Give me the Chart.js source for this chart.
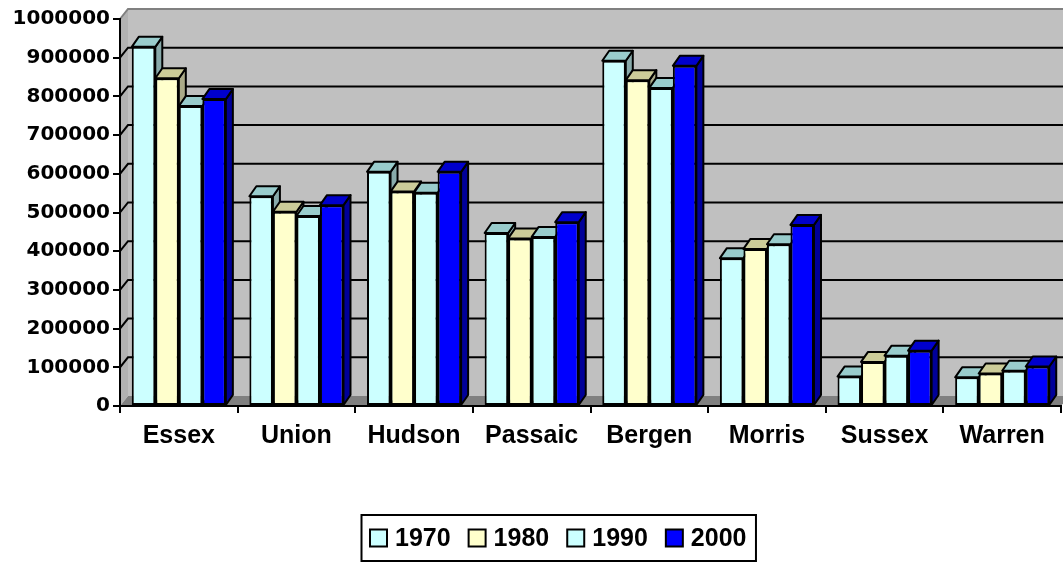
<!DOCTYPE html>
<html>
<head>
<meta charset="utf-8">
<script src="https://cdn.jsdelivr.net/npm/chart.js@4.4.1/dist/chart.umd.min.js"></script>
<style>
  html, body { margin: 0; padding: 0; background: #fff; }
  #wrap { width: 1063px; height: 563px; position: relative; }
</style>
</head>
<body>
<div id="wrap"><canvas id="chart"></canvas></div>
<script>
const counties = ['Essex', 'Union', 'Hudson', 'Passaic', 'Bergen', 'Morris', 'Sussex', 'Warren'];
const years = ['1970', '1980', '1990', '2000'];
const pop1970 = [928000, 542000, 605000, 447000, 892000, 382000, 76000, 74000];
const pop1980 = [847000, 502000, 554000, 433000, 842000, 406000, 114000, 84000];
const pop1990 = [775000, 491000, 551000, 437000, 822000, 418000, 130000, 91000];
const pop2000 = [793000, 519000, 605000, 475000, 879000, 468000, 143000, 102000];
const yMax = 1000000;
const yStep = 100000;

const frontColors = ['#CCFFFF', '#FFFFCC', '#CCFFFF', '#0000FF'];
const topColors = ['#99CCCC', '#CCCC99', '#99CCCC', '#0000CC'];
const sideColors = ['#88AAAA', '#AAAA88', '#88AAAA', '#000099'];

const AXIS_FONT = '"DejaVu Sans", sans-serif';
const LABEL_FONT = '"Liberation Sans", Arial, sans-serif';
const WALL = { dx: 8, dy: -10 };
const BAR = { dx: 7, dy: -10 };

function poly(ctx, pts, fill, stroke) {
  ctx.beginPath();
  ctx.moveTo(pts[0][0], pts[0][1]);
  for (let i = 1; i < pts.length; i++) ctx.lineTo(pts[i][0], pts[i][1]);
  ctx.closePath();
  if (fill) { ctx.fillStyle = fill; ctx.fill(); }
  if (stroke) { ctx.strokeStyle = stroke; ctx.stroke(); }
}

// back wall, side wall, floor and the gridlines sitting on the back wall
const wallPlugin = {
  id: 'wall3d',
  beforeDraw(chart) {
    const { ctx, chartArea: a, scales: { y } } = chart;
    const L = a.left, B = a.bottom, R = chart.width + 20;
    const T = y.getPixelForValue(yMax);
    ctx.save();
    ctx.fillStyle = '#fff';
    ctx.fillRect(0, 0, chart.width, chart.height);
    ctx.fillStyle = '#C0C0C0';
    ctx.fillRect(L + WALL.dx, T + WALL.dy, R - L, B - T);
    poly(ctx, [[L, T], [L + WALL.dx, T + WALL.dy], [L + WALL.dx, B + WALL.dy], [L, B]], '#B2B2B2');
    poly(ctx, [[L, B], [L + WALL.dx, B + WALL.dy], [a.right + WALL.dx, B + WALL.dy], [a.right, B]], '#808080');
    ctx.lineWidth = 2;
    y.ticks.forEach(t => {
      if (t.value === 0) return;
      const py = y.getPixelForValue(t.value);
      ctx.strokeStyle = t.value === yMax ? '#808080' : '#000';
      ctx.beginPath();
      ctx.moveTo(L, py);
      ctx.lineTo(L + WALL.dx, py + WALL.dy);
      ctx.lineTo(R, py + WALL.dy);
      ctx.stroke();
    });
    ctx.restore();
  }
};

// top and side faces of every column; the fronts are drawn by Chart.js afterwards
const barDepthPlugin = {
  id: 'barDepth',
  beforeDatasetsDraw(chart) {
    const ctx = chart.ctx;
    ctx.save();
    ctx.lineWidth = 2;
    ctx.lineJoin = 'round';
    chart.data.datasets.forEach((ds, i) => {
      chart.getDatasetMeta(i).data.forEach(bar => {
        const { x, y, base, width } = bar.getProps(['x', 'y', 'base', 'width'], true);
        const l = x - width / 2, r = x + width / 2;
        poly(ctx, [[r, y], [r + BAR.dx, y + BAR.dy], [r + BAR.dx, base + BAR.dy], [r, base]], sideColors[i], '#000');
        poly(ctx, [[l, y], [l + BAR.dx, y + BAR.dy], [r + BAR.dx, y + BAR.dy], [r, y]], topColors[i], '#000');
      });
    });
    ctx.restore();
  }
};

// boxed legend under the chart
const boxLegendPlugin = {
  id: 'boxLegend',
  afterDraw(chart) {
    const ctx = chart.ctx;
    const sq = 17, gapText = 8, gapItem = 18, pad = 8;
    const cy = 538, cx = 558;
    ctx.save();
    ctx.font = 'bold 25px ' + LABEL_FONT;
    const items = chart.data.datasets.map(ds => ({ label: ds.label, color: ds.backgroundColor, w: ctx.measureText(ds.label).width }));
    const inner = items.reduce((s, it) => s + sq + gapText + it.w, 0) + gapItem * (items.length - 1);
    const boxW = inner + pad * 2 + 2;
    const left = Math.round(cx - boxW / 2);
    ctx.lineWidth = 2;
    ctx.strokeStyle = '#000';
    ctx.strokeRect(left + 0.5, 515, boxW, 46);
    let x = left + pad + 1;
    ctx.textBaseline = 'middle';
    ctx.textAlign = 'left';
    items.forEach(it => {
      ctx.fillStyle = it.color;
      ctx.fillRect(x, cy - sq / 2, sq, sq);
      ctx.strokeRect(x, cy - sq / 2, sq, sq);
      ctx.fillStyle = '#000';
      ctx.fillText(it.label, x + sq + gapText, cy + 1);
      x += sq + gapText + it.w + gapItem;
    });
    ctx.restore();
  }
};

const seriesValues = [pop1970, pop1980, pop1990, pop2000];

new Chart(document.getElementById('chart'), {
  type: 'bar',
  data: {
    labels: counties,
    datasets: years.map((yr, i) => ({
      label: yr,
      data: seriesValues[i],
      backgroundColor: frontColors[i],
      borderColor: '#000',
      borderWidth: 2,
      borderSkipped: false,
      categoryPercentage: 0.8,
      barPercentage: 1.0
    }))
  },
  options: {
    responsive: true,
    maintainAspectRatio: false,
    devicePixelRatio: 1,
    animation: false,
    layout: { padding: { top: 19, right: 2, left: 0, bottom: 0 } },
    plugins: { legend: { display: false }, tooltip: { enabled: false } },
    scales: {
      x: {
        offset: true,
        grid: { offset: true, drawOnChartArea: false, drawTicks: true, tickLength: 7, color: '#000', lineWidth: 2 },
        border: { color: '#000', width: 2 },
        ticks: { color: '#000', font: { family: LABEL_FONT, size: 25, weight: 'bold' }, padding: 8, maxRotation: 0, autoSkip: false },
        afterFit(s) { s.height = 157; }
      },
      y: {
        min: 0,
        max: yMax,
        grid: { drawOnChartArea: false, drawTicks: true, tickLength: 7, color: '#000', lineWidth: 2 },
        border: { color: '#000', width: 2 },
        ticks: {
          stepSize: yStep,
          color: '#000',
          padding: 3,
          font: { family: AXIS_FONT, size: 20, weight: 'bold' },
          callback: v => String(v)
        },
        afterFit(s) { s.width = 120; }
      }
    }
  },
  plugins: [wallPlugin, barDepthPlugin, boxLegendPlugin]
});
</script>
</body>
</html>
